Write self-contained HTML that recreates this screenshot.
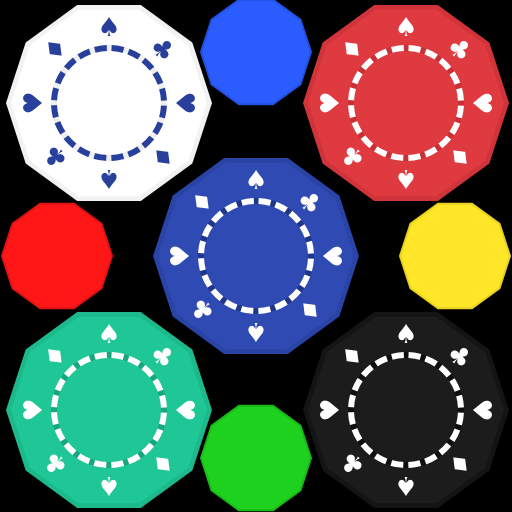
<!DOCTYPE html>
<html><head><meta charset="utf-8"><style>
html,body{margin:0;padding:0;background:#000;}
svg{display:block}
text{font-family:"DejaVu Sans","Liberation Sans",sans-serif;}
</style></head><body>
<svg id="s" width="512" height="512" viewBox="0 0 512 512">
<rect width="512" height="512" fill="#000"/>
</svg>
<script>
const NS="http://www.w3.org/2000/svg";
const svg=document.getElementById('s');
const bigNames=['white-chip','red-chip','blue-chip','green-chip','black-chip'];
const bigCx=[109,406,256,109,406];
const bigCy=[103,103,256,410,410];
const bigFill=['#ffffff','#df3a40','#2f4ab3','#1fc797','#1c1c1c'];
const bigEdge=['#f2f2f2','#d0343a','#2a43a6','#1cb98c','#141414'];
const bigInk=['#283f9c','#ffffff','#ffffff','#ffffff','#ffffff'];
const bigGap=['#eeeeee','#c83036','#20368a','#18a67e','#0e0e0e'];
const smallNames=['small-blue-chip','small-red-chip','small-yellow-chip','small-green-chip'];
const smallCx=[256,57,455,256];
const smallCy=[52,256,256,458];
const smallFill=['#2b5cff','#ff1616','#ffe629','#1fd11f'];
const smallEdge=['#2450e0','#e01212','#e8d020','#19b819'];
const suits=['♠','♣','♥','♦','♠','♣','♥','♦'];

function deca(cx,cy,r){
  let p=[];
  for(let i=0;i<10;i++){const a=i*Math.PI/5;p.push((cx+r*Math.cos(a)).toFixed(1)+','+(cy+r*Math.sin(a)).toFixed(1));}
  return p.join(' ');
}
function el(t,attrs){const e=document.createElementNS(NS,t);for(const k in attrs)e.setAttribute(k,attrs[k]);return e;}

for(let i=0;i<smallNames.length;i++){
  const g=el('polygon',{points:deca(smallCx[i],smallCy[i],55),fill:smallFill[i],stroke:smallEdge[i],'stroke-width':2});
  
  
  svg.appendChild(g);
}
for(let i=0;i<bigNames.length;i++){
  const g=el('g',{});
  
  
  g.appendChild(el('polygon',{points:deca(bigCx[i],bigCy[i],103),fill:bigEdge[i]}));
  g.appendChild(el('polygon',{points:deca(bigCx[i],bigCy[i],98),fill:bigFill[i]}));
  const r=55, C=2*Math.PI*r, seg=C/20;
  g.appendChild(el('circle',{cx:bigCx[i],cy:bigCy[i],r:r,fill:'none',stroke:bigGap[i],'stroke-width':6}));
  g.appendChild(el('circle',{cx:bigCx[i],cy:bigCy[i],r:r,fill:'none',stroke:bigInk[i],'stroke-width':6,
    'stroke-dasharray':(seg*0.7).toFixed(2)+' '+(seg*0.3).toFixed(2),
    'stroke-dashoffset':(-seg*0.15).toFixed(2),
    transform:'rotate(-90 '+bigCx[i]+' '+bigCy[i]+')'}));
  for(let k=0;k<8;k++){
    const ang=k*45, rad=(ang-90)*Math.PI/180;
    const x=bigCx[i]+76*Math.cos(rad), y=bigCy[i]+76*Math.sin(rad);
    const t=el('text',{x:x,y:y+9,'text-anchor':'middle','font-size':26,fill:bigInk[i],
      transform:'rotate('+ang+' '+x.toFixed(1)+' '+y.toFixed(1)+')'});
    t.textContent=suits[k];
    
    
    g.appendChild(t);
  }
  svg.appendChild(g);
}
</script>
</body></html>
